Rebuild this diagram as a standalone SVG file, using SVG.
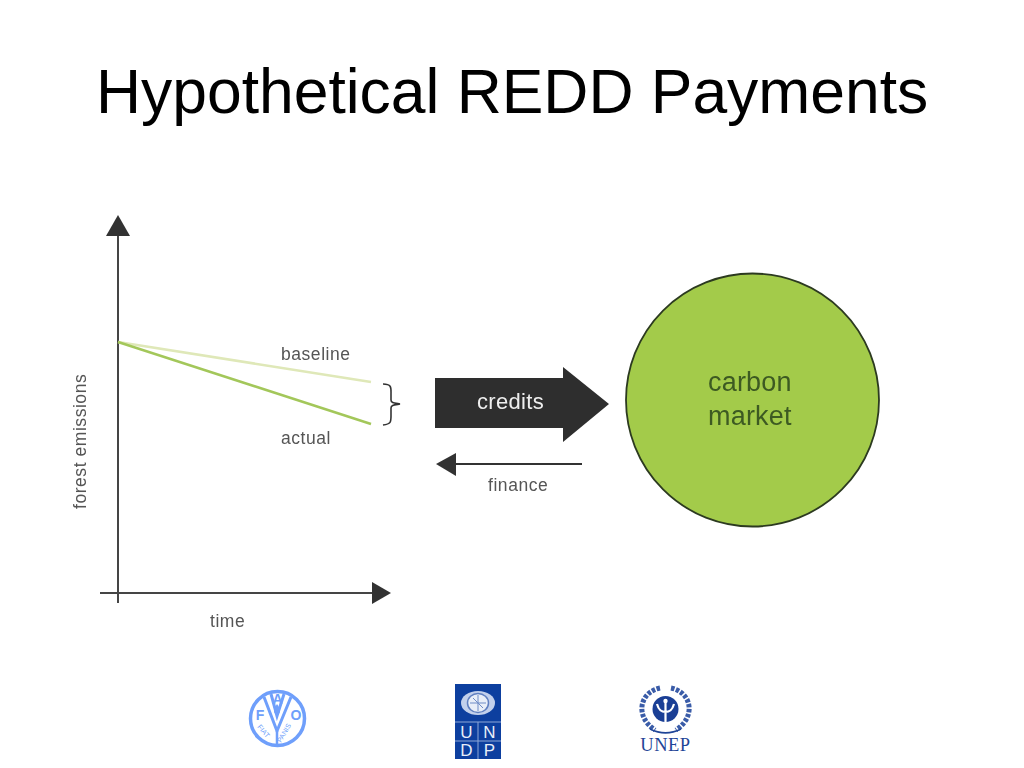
<svg xmlns="http://www.w3.org/2000/svg" width="1024" height="768" viewBox="0 0 1024 768">
<defs>
<style>
text{font-family:"Liberation Sans",Arial,sans-serif}
.lbl{font-size:17.500px;letter-spacing:0.550px;fill:#555}
.axis{stroke:#444;stroke-width:2;fill:none}
.head{fill:#333}
.fao{fill:#6f9ffb}
.faol{fill:none;stroke:#6f9ffb}
.undp{font-size:17px;fill:#e8eef8;text-anchor:middle}
.wr{fill:none;stroke:#3a5ca8;stroke-width:5;stroke-dasharray:3.500 1.500}
</style>
<filter id="soft" x="-10%" y="-10%" width="120%" height="120%"><feGaussianBlur stdDeviation="0.45"/></filter>
</defs>
<rect width="1024" height="768" fill="#fff"/>
<text id="title" x="96" y="113" font-size="62.400" fill="#000">Hypothetical REDD Payments</text>

<g id="connectors" filter="url(#soft)">
<path class="axis" d="M118 232V603"/>
<path class="head" d="M118 215L130 236H106Z"/>
<path class="axis" d="M100 593H374"/>
<path class="head" d="M391 593L372 582V604Z"/>
<path d="M118 342L371 382" stroke="#dfe8b8" stroke-width="2.500" fill="none"/>
<path d="M118 342L371 424" stroke="#a3c75a" stroke-width="2.500" fill="none"/>
<path d="M383 384C392 384 391 388 391 394V400C391 403 394 403 400 404C394 405 391 405 391 408V416C391 422 391 424 383 425" fill="none" stroke="#333" stroke-width="1.600"/>
<path d="M582 464H454" stroke="#333" stroke-width="2" fill="none"/>
<path class="head" d="M436 464L456 453V476Z"/>
</g>

<g id="credits" filter="url(#soft)">
<path d="M435 378H563V367L609 404L563 442V428H435Z" fill="#2f2f2f"/>
<text x="510.500" y="409" font-size="22" letter-spacing="0.300" fill="#eee" text-anchor="middle">credits</text>
</g>
<g id="carbon-market">
<circle cx="752.500" cy="400" r="126.500" fill="#a3cb4a" stroke="#2c3a20" stroke-width="1.800"/>
<g filter="url(#soft)">
<text x="708" y="391" font-size="27" letter-spacing="0.200" fill="#3d5a22">carbon</text>
<text x="708" y="425" font-size="27" letter-spacing="0.200" fill="#3d5a22">market</text>
</g>
</g>
<g id="labels" filter="url(#soft)">
<text class="lbl" x="281" y="360">baseline</text>
<text class="lbl" x="281" y="444">actual</text>
<text class="lbl" x="210" y="627">time</text>
<text class="lbl" x="488" y="491">finance</text>
<text class="lbl" transform="translate(86 509) rotate(-90)">forest emissions</text>
</g>

<g id="logo-fao">
<circle class="faol" cx="277.500" cy="718.500" r="27" stroke-width="3.500"/>
<path class="faol" stroke-width="3" d="M264 697L277 731L291 697M271 694L277 716L284 694"/>
<path class="faol" stroke-width="2.500" d="M277 731V746"/>
<path class="fao" d="M277 704c2 3 3 5 3 7a3 3 0 0 1-6 0c0-2 1-4 3-7Z"/>
<text x="260" y="720" font-size="14" font-weight="bold" class="fao" text-anchor="middle">F</text>
<text x="277.500" y="704" font-size="14" font-weight="bold" class="fao" text-anchor="middle">A</text>
<text x="296" y="720" font-size="14" font-weight="bold" class="fao" text-anchor="middle">O</text>
<text transform="translate(257 727) rotate(50)" font-size="7" class="fao">FIAT</text>
<text transform="translate(281 743) rotate(-60)" font-size="7" class="fao">PANIS</text>
</g>

<g id="logo-undp">
<rect x="455" y="684" width="46" height="75" fill="#0d3f9f"/>
<path d="M455 722H501M455 741H501M478 722V759" stroke="#8ea8d8" stroke-width="1" fill="none"/>
<ellipse cx="478" cy="703" rx="17" ry="12" fill="#c2d0ec"/>
<ellipse cx="478" cy="703" rx="10.500" ry="9.500" fill="#e8eef8" stroke="#5f7fc0" stroke-width="1.500"/>
<path d="M470 703H486M478 695V711M473 698L483 708" stroke="#6f8cc6" stroke-width="1" fill="none"/>
<text class="undp" x="466.500" y="738">U</text>
<text class="undp" x="489.500" y="738">N</text>
<text class="undp" x="466.500" y="756">D</text>
<text class="undp" x="489.500" y="756">P</text>
</g>

<g id="logo-unep">
<path class="wr" d="M660 688C640 692 634 716 655 730"/>
<path class="wr" d="M671 688C691 692 697 716 676 730"/>
<path d="M650 729C660 734 671 734 681 729" fill="none" stroke="#1f4597" stroke-width="1.500"/>
<circle cx="665.500" cy="709" r="13" fill="#1a3f95"/>
<path d="M665.500 702V722M657 704C659 711 662 712 665.500 712C669 712 672 711 674 704" stroke="#fff" stroke-width="2.200" fill="none"/>
<circle cx="665.500" cy="701" r="2.200" fill="#fff"/>
<text x="665.500" y="751" style="font-family:'Liberation Serif',serif" font-size="18.500" letter-spacing="0.500" fill="#1f4597" text-anchor="middle">UNEP</text>
</g>
</svg>
